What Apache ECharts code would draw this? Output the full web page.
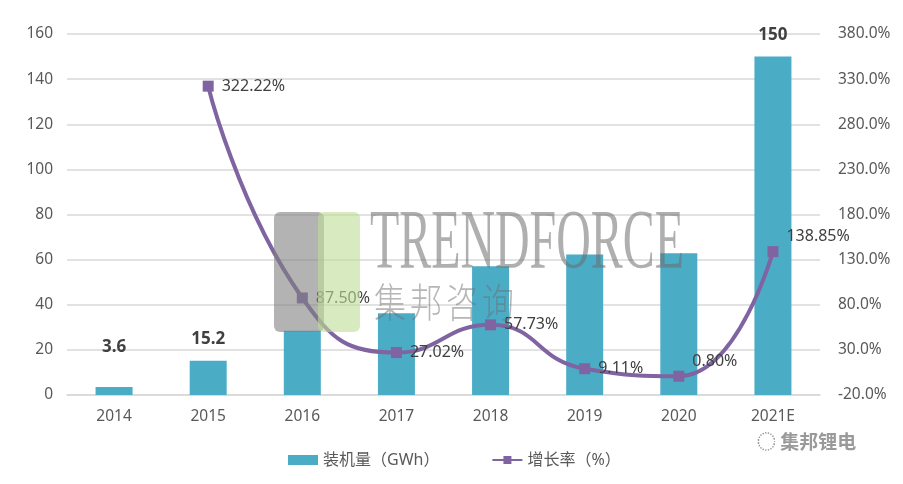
<!DOCTYPE html>
<html>
<head>
<meta charset="utf-8">
<script src="https://cdn.jsdelivr.net/npm/echarts@6/dist/echarts.min.js"></script>
<style>
  html, body { margin: 0; padding: 0; background: #fff; }
  #main { width: 903px; height: 484px; }
</style>
</head>
<body>
<div id="main"></div>
<script>
// 年份
var years = ['2014', '2015', '2016', '2017', '2018', '2019', '2020', '2021E'];
// 装机量 GWh
var capacity = [3.6, 15.2, 28.5, 36.2, 57.1, 62.3, 62.8, 150];
// 增长率 %
var growth = [null, 322.22, 87.50, 27.02, 57.73, 9.11, 0.80, 138.85];
// 只有这几根柱子显示数值
var showBarLabel = [true, true, false, false, false, false, false, true];

var fontFamily = '"Noto Sans", "Noto Sans CJK SC", sans-serif';

var barData = capacity.map(function (v, i) {
    var item = { value: v, label: { show: showBarLabel[i] } };
    if (i == 0) item.label.offset = [0, -18];
    return item;
});
var lineData = growth.map(function (v, i) {
    if (v == null) return v;
    var item = { value: v };
    if (years[i] == '2020' || years[i] == '2021E') {
        item.label = { offset: [0, -15] };
    }
    return item;
});

// 水印 集邦咨询 逐字摆放
var wmChars = ['集', '邦', '咨', '询'];
var wmGraphic = wmChars.map(function (c, i) {
    return {
        type: 'text', x: 374 + i * 36, y: 282, z: 100, silent: true, scaleX: 0.8,
        style: { text: c, fill: 'rgba(110,110,110,0.5)',
                 font: '300 40px "Noto Sans CJK SC", sans-serif' }
    };
});

var chart = echarts.init(document.getElementById('main'));
var option = {
    backgroundColor: '#fff',
    textStyle: { fontFamily: fontFamily },
    grid: { left: 67, right: 83, top: 34, bottom: 89 },
    legend: {
        bottom: 11,
        left: 283,
        itemWidth: 30,
        itemHeight: 10,
        itemGap: 52,
        textStyle: { color: '#595959', fontSize: 16, fontFamily: fontFamily },
        data: [
            { name: '装机量（GWh）', icon: 'rect' },
            { name: '增长率（%）' }
        ]
    },
    xAxis: {
        type: 'category',
        data: years,
        axisLine: { lineStyle: { color: '#d9d9d9', width: 1.5 } },
        axisTick: { show: false },
        axisLabel: { color: '#595959', fontSize: 15.5, margin: 14 }
    },
    yAxis: [{
        type: 'value',
        min: 0, max: 160, interval: 20,
        axisLine: { show: false },
        axisTick: { show: false },
        axisLabel: { color: '#595959', fontSize: 15.5, margin: 14 },
        splitLine: { lineStyle: { color: '#d9d9d9', width: 1.5 } }
    }, {
        type: 'value',
        min: -20, max: 380, interval: 50,
        axisLine: { show: false },
        axisTick: { show: false },
        splitLine: { show: false },
        axisLabel: {
            color: '#595959', fontSize: 15.5, margin: 18,
            formatter: function (v) { return v.toFixed(1) + '%'; }
        }
    }],
    graphic: [
        // TrendForce 水印
        { type: 'rect', left: 274, top: 212, z: 100, silent: true,
          shape: { width: 50, height: 120, r: 6 }, style: { fill: 'rgba(128,128,128,0.6)' } },
        { type: 'rect', left: 318, top: 212, z: 100, silent: true,
          shape: { width: 42, height: 120, r: 6 }, style: { fill: 'rgba(190,220,150,0.6)' } },
        { type: 'text', x: 370, y: 204, z: 100, silent: true, scaleX: 0.57,
          style: { text: 'TRENDFORCE', fill: 'rgba(110,110,110,0.55)',
                   font: '84px "Liberation Serif", serif' } },
        // 公众号
        { type: 'text', left: 757, top: 432, silent: true,
          style: { text: '◌ 集邦锂电', fill: '#9a9a9a',
                   font: 'bold 19px "Noto Sans CJK SC", sans-serif' } }
    ].concat(wmGraphic),
    series: [{
        name: '装机量（GWh）',
        type: 'bar',
        data: barData,
        barWidth: 37,
        itemStyle: { color: '#4BACC6' },
        label: {
            show: true, position: 'top', distance: 13,
            color: '#404040', fontSize: 17, fontWeight: 'bold'
        }
    }, {
        name: '增长率（%）',
        type: 'line',
        yAxisIndex: 1,
        data: lineData,
        smooth: 0.5,
        symbol: 'rect',
        symbolSize: 11,
        itemStyle: { color: '#8064A2' },
        lineStyle: { color: '#8064A2', width: 4 },
        label: {
            show: true, position: 'right', distance: 8,
            color: '#404040', fontSize: 16,
            formatter: function (p) { return p.value.toFixed(2) + '%'; }
        }
    }]
};
chart.setOption(option);
</script>
</body>
</html>
